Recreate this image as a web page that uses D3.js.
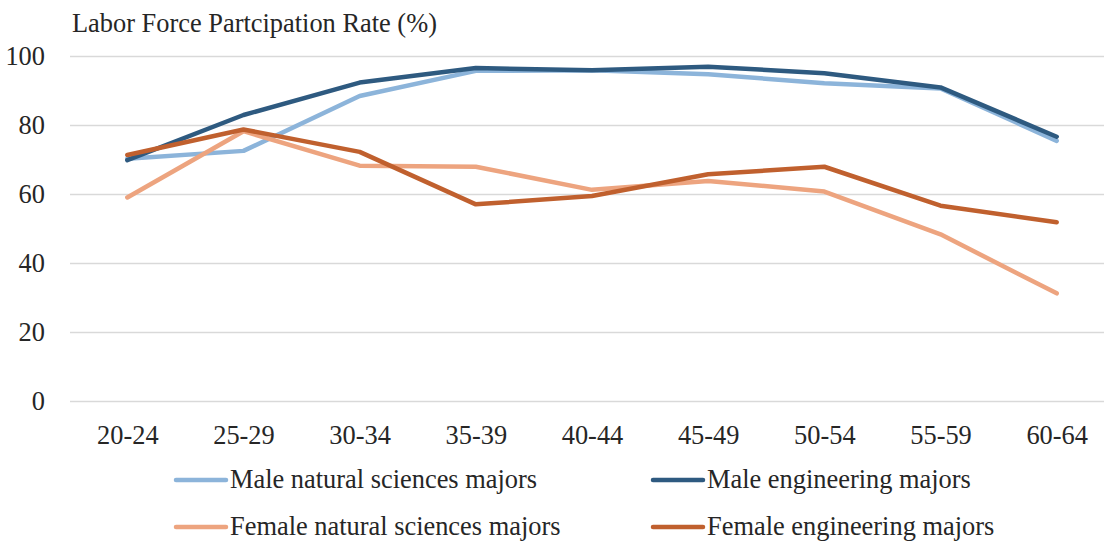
<!DOCTYPE html>
<html>
<head>
<meta charset="utf-8">
<script src="https://cdn.jsdelivr.net/npm/d3@7"></script>
<style>
  html, body { margin: 0; padding: 0; background: #fff; }
  svg { display: block; }
  text { font-family: "Liberation Serif", "DejaVu Serif", serif; fill: #262626; }
</style>
</head>
<body>
<svg id="chart" width="1104" height="542"></svg>
<script>
const categories = ["20-24","25-29","30-34","35-39","40-44","45-49","50-54","55-59","60-64"];
const maleNatural   = [70.2, 72.5, 88.4, 95.7, 95.9, 94.7, 92.1, 90.6, 75.4];
const maleEng       = [69.8, 82.9, 92.3, 96.5, 95.9, 96.9, 95.0, 90.9, 76.6];
const femaleNatural = [59.0, 78.2, 68.2, 67.9, 61.2, 63.8, 60.7, 48.3, 31.2];
const femaleEng     = [71.3, 78.7, 72.2, 57.0, 59.4, 65.7, 67.9, 56.6, 51.8];
const yTicks = [0, 20, 40, 60, 80, 100];
const seriesNames = ["Male natural sciences majors","Male engineering majors","Female natural sciences majors","Female engineering majors"];
const seriesColors = ["#8cb4da","#2e5a80","#eda47f","#c0602e"];

const series = [
  {name: seriesNames[0], values: maleNatural,   color: seriesColors[0]},
  {name: seriesNames[1], values: maleEng,       color: seriesColors[1]},
  {name: seriesNames[2], values: femaleNatural, color: seriesColors[2]},
  {name: seriesNames[3], values: femaleEng,     color: seriesColors[3]}
];

const svg = d3.select("#chart");
const FS = 26.4;

const x = d3.scalePoint().domain(categories).range([127.3, 1056.7]);
const y = d3.scaleLinear().domain([0, 100]).range([401, 56]);

// gridlines
const yAxis = d3.axisLeft(y).tickValues(yTicks).tickSize(-1040).tickPadding(25);
const gy = svg.append("g").attr("transform", "translate(70,0)").call(yAxis);
gy.select(".domain").remove();
gy.selectAll(".tick line").attr("stroke", "#d9d9d9").attr("stroke-width", 1.5);
gy.selectAll(".tick text").attr("font-size", FS).attr("font-family", "Liberation Serif").attr("fill", "#262626");

// x axis labels
const xAxis = d3.axisBottom(x).tickSize(0).tickPadding(0);
const gx = svg.append("g").attr("transform", "translate(0,401)").call(xAxis);
gx.select(".domain").remove();
gx.selectAll(".tick text").attr("font-size", FS).attr("font-family", "Liberation Serif").attr("fill", "#262626")
  .attr("dy", null).attr("y", 43);

// title
svg.append("text").attr("x", 72).attr("y", 32).attr("font-size", FS).text("Labor Force Partcipation Rate (%)");

// lines
const line = d3.line().x((d, i) => x(categories[i])).y(d => y(d));
svg.append("g").selectAll("path").data(series).join("path")
  .attr("d", d => line(d.values))
  .attr("fill", "none")
  .attr("stroke", d => d.color)
  .attr("stroke-width", 4.5)
  .attr("stroke-linejoin", "round")
  .attr("stroke-linecap", "round");

// legend
const legendPos = [[176, 480], [653, 480], [176, 527], [653, 527]];
const lg = svg.append("g").selectAll("g").data(series).join("g")
  .attr("transform", (d, i) => `translate(${legendPos[i][0]},${legendPos[i][1]})`);
lg.append("line").attr("x1", 0).attr("x2", 50).attr("y1", 0).attr("y2", 0)
  .attr("stroke", d => d.color).attr("stroke-width", 4.5).attr("stroke-linecap", "round");
lg.append("text").attr("x", 54).attr("y", 0).attr("dy", "0.32em").attr("font-size", FS).text(d => d.name);
</script>
</body>
</html>
